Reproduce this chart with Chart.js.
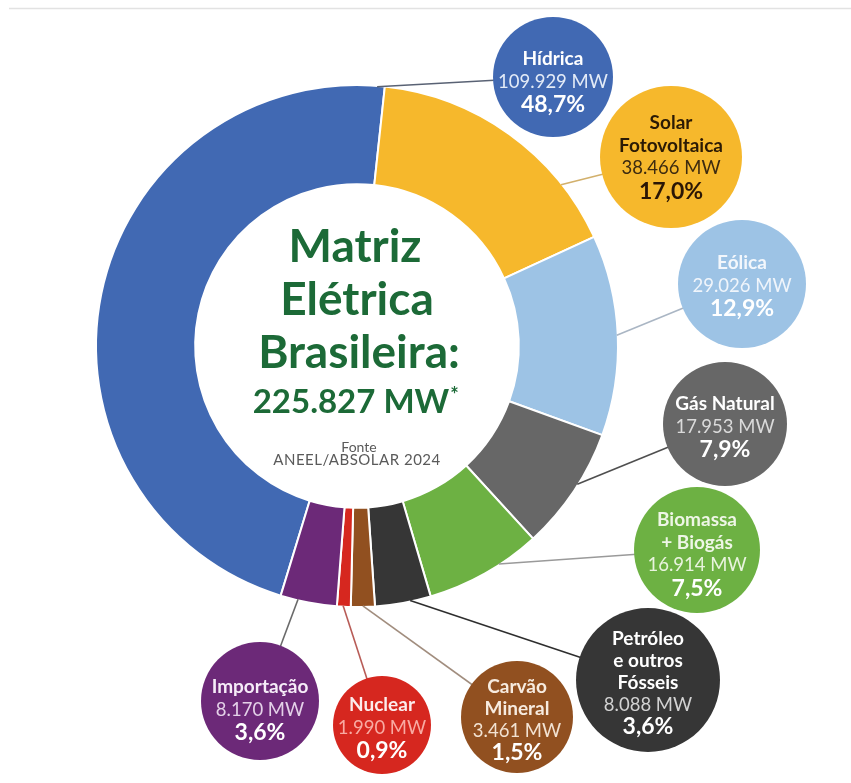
<!DOCTYPE html>
<html lang="pt-BR">
<head>
<meta charset="utf-8">
<title>Matriz Elétrica Brasileira</title>
<script src="https://cdn.jsdelivr.net/npm/chart.js@4/dist/chart.umd.min.js"></script>
<style>
  html, body { margin: 0; padding: 0; background: #ffffff; }
  #wrap { position: relative; width: 851px; height: 783px; }
  canvas { display: block; }
</style>
</head>
<body>
<div id="wrap"><canvas id="chart" width="851" height="783"></canvas></div>
<script>
// Fontes da matriz elétrica, em sentido horário a partir da Hídrica
const sources = ['Hídrica', 'Solar Fotovoltaica', 'Eólica', 'Gás Natural', 'Biomassa + Biogás',
                 'Petróleo e outros Fósseis', 'Carvão Mineral', 'Nuclear', 'Importação'];
// Potência instalada (MW)
const capacityMW = [109929, 38466, 29026, 17953, 16914, 8088, 3461, 1990, 8170];
// Participação informada em cada rótulo
const shareLabels = ['48,7%', '17,0%', '12,9%', '7,9%', '7,5%', '3,6%', '1,5%', '0,9%', '3,6%'];
// Linhas de título dentro de cada balão
const bubbleTitles = [['Hídrica'], ['Solar', 'Fotovoltaica'], ['Eólica'], ['Gás Natural'],
                      ['Biomassa', '+ Biogás'], ['Petróleo', 'e outros', 'Fósseis'],
                      ['Carvão', 'Mineral'], ['Nuclear'], ['Importação']];
const sliceColors = ['#4169b3', '#f6b82c', '#9dc3e5', '#676767', '#6db143',
                     '#363636', '#915020', '#d6271f', '#6c2978'];
const totalLabel = '225.827 MW';
const sourceNote = ['Fonte', 'ANEEL/ABSOLAR 2024'];

// Estilo de cada balão: posição, raio, cores do texto, linha guia
const bubbleStyle = [
  { x: 553, y: 77,  r: 60, dy: 5, gap: 23, title: '#ffffff', mw: '#e3ebf7', pct: '#ffffff', line: '#596274', at: 0.99 },
  { x: 671, y: 157, r: 71, dy: 0, gap: 23, title: '#2b1a05', mw: '#3d2b10', pct: '#2a1605', line: '#d2b06c', at: 0.77 },
  { x: 742, y: 284, r: 64, dy: 2, gap: 23, title: '#f3f7fc', mw: '#f0f5fb', pct: '#ffffff', line: '#aab6c4', at: 0.5 },
  { x: 725, y: 424, r: 62, dy: 3, gap: 23, title: '#ffffff', mw: '#dadada', pct: '#ffffff', line: '#4f4f4f', at: 0.44 },
  { x: 697, y: 550, r: 63, dy: 4, gap: 23, title: '#eef6e6', mw: '#e9f4df', pct: '#ffffff', line: '#9a9a9a', at: 0.36 },
  { x: 648, y: 680, r: 72, dy: 3, gap: 22, title: '#ffffff', mw: '#d2d2d2', pct: '#ffffff', line: '#2e2e2e', at: 0.37 },
  { x: 517, y: 717, r: 56, dy: 3, gap: 22, title: '#f7ebdf', mw: '#f2e2d2', pct: '#ffffff', line: '#a18d7e', at: 0.5 },
  { x: 382, y: 725, r: 49, dy: 3, gap: 23, title: '#fcecec', mw: '#f8aaa2', pct: '#ffffff', line: '#b85c57', at: 0.55 },
  { x: 260, y: 701, r: 59, dy: 9, gap: 23, title: '#f6ecf8', mw: '#e4d1e8', pct: '#ffffff', line: '#6a6a6a', at: 0.69 }
];

function formatMW(v) {
  return String(v).replace(/\B(?=(\d{3})+(?!\d))/g, '.') + ' MW';
}

// Texto central, linhas guia e balões de legenda
const infographic = {
  id: 'infographic',
  beforeDraw(chart) {
    const ctx = chart.ctx;
    ctx.save();
    ctx.fillStyle = '#ffffff';
    ctx.fillRect(0, 0, chart.width, chart.height);
    ctx.strokeStyle = '#e2e2e2';
    ctx.lineWidth = 1.5;
    ctx.beginPath();
    ctx.moveTo(9, 8.5);
    ctx.lineTo(chart.width, 8.5);
    ctx.stroke();
    ctx.restore();
  },
  afterDatasetsDraw(chart) {
    const ctx = chart.ctx;
    const arcs = chart.getDatasetMeta(0).data;
    const cx = arcs[0].x, cy = arcs[0].y;

    // título central
    ctx.save();
    ctx.textAlign = 'center';
    ctx.textBaseline = 'middle';
    ctx.fillStyle = '#1c6a37';
    ctx.font = 'bold 46px Lato';
    ctx.fillText('Matriz', cx - 2, cy - 99);
    ctx.fillText('Elétrica', cx, cy - 46);
    ctx.fillText('Brasileira:', cx + 2, cy + 7);
    ctx.font = 'bold 33px Lato';
    const tw = ctx.measureText(totalLabel).width;
    ctx.fillText(totalLabel, cx - 6, cy + 56);
    ctx.font = 'bold 20px Lato';
    ctx.textAlign = 'left';
    ctx.fillText('*', cx - 6 + tw / 2 + 1, cy + 50);
    ctx.textAlign = 'center';
    ctx.fillStyle = '#5a5a5a';
    ctx.font = '14px Lato';
    ctx.fillText(sourceNote[0], cx + 2, cy + 101);
    ctx.letterSpacing = '0.5px';
    ctx.font = '15px Lato';
    ctx.fillText(sourceNote[1], cx, cy + 114);
    ctx.restore();

    // linhas guia, da borda externa da fatia até o balão
    arcs.forEach((arc, i) => {
      const s = bubbleStyle[i];
      const p = arc.getProps(['x', 'y', 'startAngle', 'endAngle', 'outerRadius'], true);
      const a = p.startAngle + (p.endAngle - p.startAngle) * s.at;
      const x0 = p.x + Math.cos(a) * (p.outerRadius - 1);
      const y0 = p.y + Math.sin(a) * (p.outerRadius - 1);
      ctx.save();
      ctx.strokeStyle = s.line;
      ctx.lineWidth = 1.6;
      ctx.beginPath();
      ctx.moveTo(x0, y0);
      ctx.lineTo(s.x, s.y);
      ctx.stroke();
      ctx.restore();
    });

    // balões
    arcs.forEach((arc, i) => {
      const s = bubbleStyle[i];
      ctx.save();
      ctx.fillStyle = sliceColors[i];
      ctx.beginPath();
      ctx.arc(s.x, s.y, s.r, 0, Math.PI * 2);
      ctx.fill();

      const lines = bubbleTitles[i].map(t => ({ t, kind: 'title' }))
        .concat([{ t: formatMW(capacityMW[i]), kind: 'mw' }, { t: shareLabels[i], kind: 'pct' }]);
      const n = lines.length;
      ctx.textAlign = 'center';
      ctx.textBaseline = 'middle';
      lines.forEach((ln, k) => {
        const y = s.y + s.dy + (k - (n - 1) / 2) * s.gap;
        if (ln.kind === 'title') { ctx.font = 'bold 19px Lato'; ctx.fillStyle = s.title; }
        else if (ln.kind === 'mw') { ctx.font = '18.5px Lato'; ctx.fillStyle = s.mw; }
        else { ctx.font = 'bold 23px Lato'; ctx.fillStyle = s.pct; }
        ctx.fillText(ln.t, s.x, y);
      });
      ctx.restore();
    });
  }
};

new Chart(document.getElementById('chart'), {
  type: 'doughnut',
  data: {
    labels: sources,
    datasets: [{
      data: capacityMW,
      backgroundColor: sliceColors,
      borderColor: '#ffffff',
      borderWidth: 2,
      hoverOffset: 0,
      offset: 0
    }]
  },
  options: {
    responsive: false,
    animation: false,
    events: [],
    rotation: 197,
    cutout: '62%',
    layout: { padding: { left: 95, top: 84, right: 232, bottom: 175 } },
    plugins: {
      legend: { display: false },
      tooltip: { enabled: false }
    }
  },
  plugins: [infographic]
});
</script>
</body>
</html>
